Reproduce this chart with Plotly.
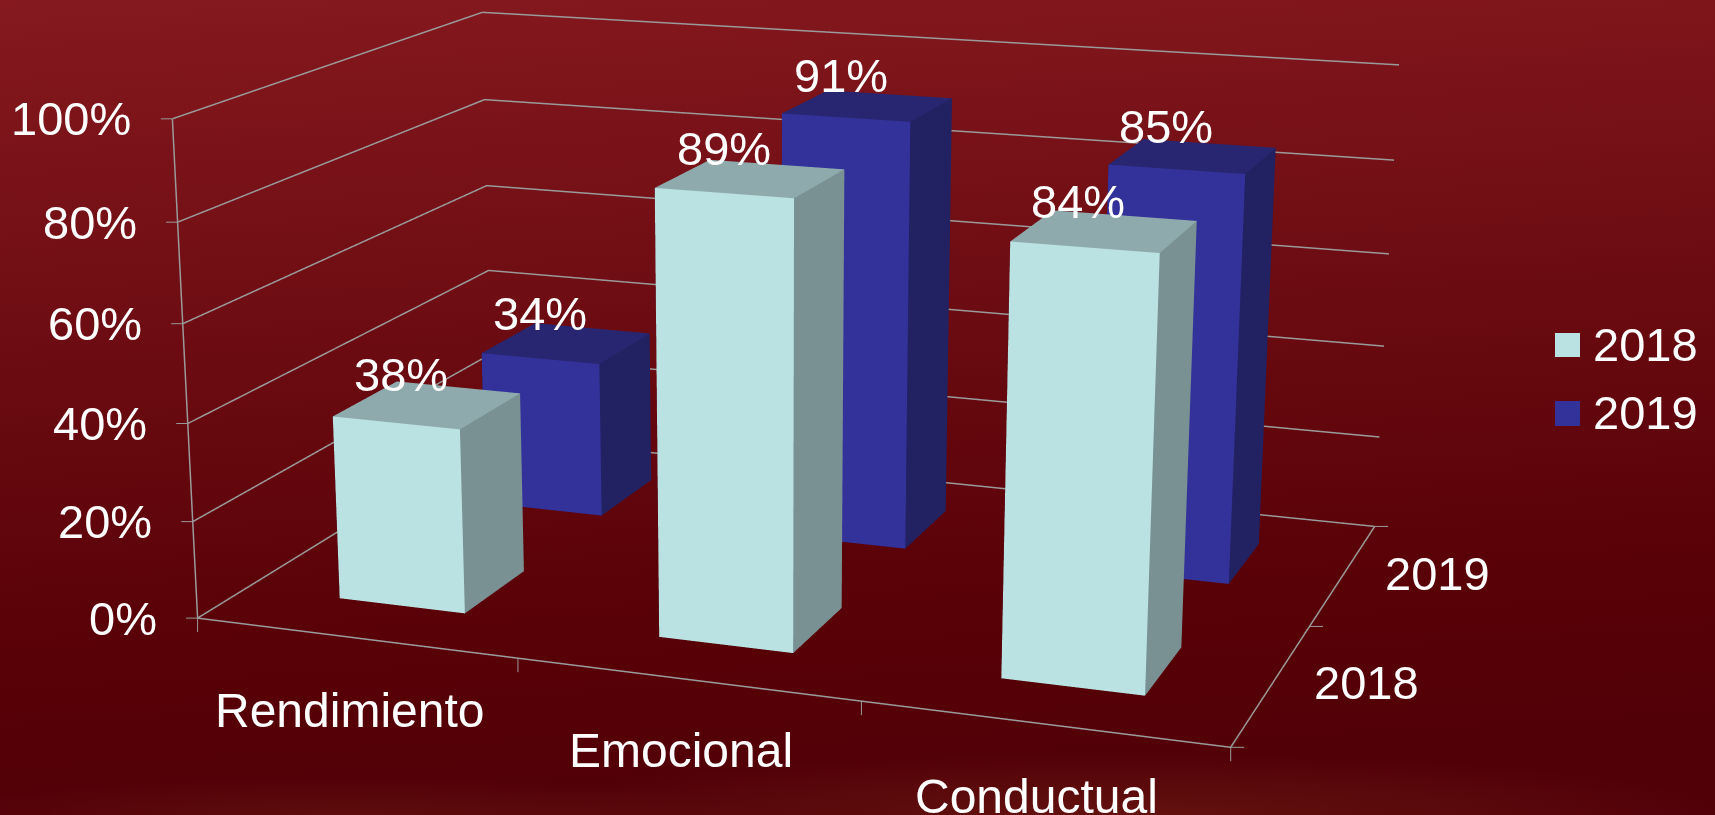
import base64
import plotly.graph_objects as go

categories = ["Rendimiento", "Emocional", "Conductual"]
series_names = ["2018", "2019"]
values_2018 = [38, 89, 84]
values_2019 = [34, 91, 85]
z_ticks = [0, 20, 40, 60, 80, 100]

FIG_W, FIG_H, TOP = 1715, 2822, -933
WIN_H = 815
FONT = "Liberation Sans"
WHITE = "#ffffff"
GRID = "#9a9a9a"
BAR_W, BAR_D = 0.40, 0.41
COLORS = {
    "2018": dict(front="#bbe2e3", top="#8faaac", side="#7a9194"),
    "2019": dict(front="#33329a", top="#282670", side="#222162"),
}
CATEGORY_YSHIFT = [-73, -71, -73]

TRI_I = [0, 0, 3, 3, 1, 1, 0, 0, 4, 4, 0, 0]
TRI_J = [1, 2, 2, 6, 2, 6, 1, 5, 5, 6, 3, 7]
TRI_K = [2, 3, 6, 7, 6, 5, 5, 4, 6, 7, 7, 4]
FACES = ["bottom", "bottom", "back", "back", "side", "side", "front", "front", "top", "top", "left", "left"]


def bar(cat_i, ser_i, value, name):
    x0, x1 = cat_i + 0.5 - BAR_W / 2, cat_i + 0.5 + BAR_W / 2
    y0, y1 = ser_i + 0.5 - BAR_D / 2, ser_i + 0.5 + BAR_D / 2
    pal = COLORS[name]
    facecolor = [pal.get(f, pal["side"]) for f in FACES]
    return go.Mesh3d(
        x=[x0, x1, x1, x0, x0, x1, x1, x0],
        y=[y0, y0, y1, y1, y0, y0, y1, y1],
        z=[0, 0, 0, 0, value, value, value, value],
        i=TRI_I, j=TRI_J, k=TRI_K,
        facecolor=facecolor,
        flatshading=True,
        lighting=dict(ambient=1, diffuse=0, specular=0, fresnel=0, roughness=1),
        hoverinfo="skip",
        name=name,
        showlegend=False,
    )


def line3d(xs, ys, zs):
    return go.Scatter3d(x=xs, y=ys, z=zs, mode="lines", hoverinfo="skip", showlegend=False,
                        line=dict(color=GRID, width=3))


fig = go.Figure()
# walls: one gridline per tick, running along the left wall then the back wall
for t in z_ticks:
    fig.add_trace(line3d([0, 0, 3], [0, 2, 2], [t, t, t]))
# axis lines
fig.add_trace(line3d([0, 0], [0, 0], [0, 100]))
fig.add_trace(line3d([0, 3, 3], [0, 0, 2], [0, 0, 0]))
for s, (name, vals) in enumerate(zip(series_names, [values_2018, values_2019])):
    for c, v in enumerate(vals):
        fig.add_trace(bar(c, s, v, name))

label_font = dict(family=FONT, size=47, color=WHITE)
cat_font = dict(family=FONT, size=48, color=WHITE)
ann = []


def tick(x, y, z, ax, ay):
    ann.append(dict(x=x, y=y, z=z, text=" ", showarrow=True, arrowhead=0, arrowwidth=1,
                    arrowcolor=GRID, standoff=0, startstandoff=0, ax=ax, ay=ay,
                    font=dict(size=1)))


for s, vals in enumerate([values_2018, values_2019]):
    for c, v in enumerate(vals):
        ann.append(dict(x=c + 0.5, y=s + 0.5, z=v, text=f"{v}%", showarrow=False,
                        xshift=-27, yshift=30, font=label_font))
for t in z_ticks:
    ann.append(dict(x=0, y=0, z=t, text=f"{t}%", showarrow=False, xanchor="right",
                    xshift=-39, yshift=0, font=label_font))
    tick(0, 0, t, -13, 0)
for c, cat in enumerate(categories):
    ann.append(dict(x=c + 0.5, y=0, z=0, text=cat, showarrow=False,
                    xshift=-6, yshift=CATEGORY_YSHIFT[c], font=cat_font))
for c in range(4):
    tick(c, 0, 0, 0, 16)
for s, name in enumerate(series_names):
    ann.append(dict(x=3, y=s + 0.5, z=0, text=name, showarrow=False,
                    xshift=94, yshift=1, font=label_font))
for s in range(3):
    tick(3, s, 0, 15, 0)


def axis(rng, tickvals):
    return dict(range=rng, autorange=False, tickmode="array", tickvals=tickvals,
                showticklabels=False, showbackground=False, showgrid=False,
                showline=False, zeroline=False, ticks="", showspikes=False,
                title=dict(text=""))


svg = """<svg xmlns='http://www.w3.org/2000/svg' width='1715' height='815'>
<defs>
<linearGradient id='a' x1='0' y1='0' x2='0.12' y2='1'>
<stop offset='0' stop-color='#85191f'/><stop offset='0.5' stop-color='#680a10'/>
<stop offset='0.75' stop-color='#5a0208'/><stop offset='0.9' stop-color='#550006'/>
<stop offset='1' stop-color='#520008'/>
</linearGradient>
<radialGradient id='b' gradientUnits='userSpaceOnUse' cx='0' cy='0' r='1'
 gradientTransform='translate(1120 815) scale(620 62)'>
<stop offset='0' stop-color='#6a1a12' stop-opacity='0.7'/><stop offset='1' stop-color='#6a1a12' stop-opacity='0'/>
</radialGradient>
<radialGradient id='c' gradientUnits='userSpaceOnUse' cx='0' cy='0' r='1'
 gradientTransform='translate(350 815) scale(420 38)'>
<stop offset='0' stop-color='#6a1a12' stop-opacity='0.5'/><stop offset='1' stop-color='#6a1a12' stop-opacity='0'/>
</radialGradient>
</defs>
<rect width='1715' height='815' fill='url(#a)'/>
<rect y='700' width='1715' height='115' fill='url(#b)'/>
<rect y='700' width='1715' height='115' fill='url(#c)'/>
</svg>"""
bg = "data:image/svg+xml;base64," + base64.b64encode(svg.encode()).decode()


def py(y_px):
    # paper coordinate of a row of the visible window
    return 1 - (y_px - TOP) / FIG_H


swatches = []
legend_text = []
for name, y0, y1 in zip(series_names, [333, 401], [357, 426]):
    swatches.append(dict(type="rect", xref="paper", yref="paper", x0=1555 / FIG_W, x1=1580 / FIG_W,
                         y0=py(y1), y1=py(y0), fillcolor=COLORS[name]["front"], line=dict(width=0)))
    legend_text.append(dict(xref="paper", yref="paper", x=1591 / FIG_W, y=py((y0 + y1) / 2 - 1),
                            xanchor="left", yanchor="middle", showarrow=False, text=name,
                            font=label_font))

fig.update_layout(
    width=FIG_W, height=FIG_H,
    margin=dict(l=0, r=0, t=0, b=0),
    paper_bgcolor="rgba(0,0,0,0)",
    font=dict(family=FONT, color=WHITE),
    showlegend=False,
    images=[dict(source=bg, xref="paper", yref="paper", x=0, y=1 + TOP / FIG_H,
                 sizex=1, sizey=WIN_H / FIG_H, sizing="stretch",
                 xanchor="left", yanchor="top", layer="below")],
    shapes=swatches,
    annotations=legend_text,
    scene=dict(
        domain=dict(x=[0, 1542 / FIG_W], y=[0, 1]),
        bgcolor="rgba(0,0,0,0)",
        aspectmode="manual",
        aspectratio=dict(x=1.05, y=0.71, z=0.505),
        camera=dict(
            eye=dict(x=1.1173, y=-3.1909, z=0.84935),
            center=dict(x=0.1336, y=-0.4879, z=-0.00265),
            up=dict(x=0, y=0, z=1),
            projection=dict(type="perspective"),
        ),
        xaxis=axis([0, 3], [0, 1, 2, 3]),
        yaxis=axis([0, 2], [0, 1, 2]),
        zaxis=axis([0, 100], z_ticks),
        annotations=ann,
    ),
)

post = f"""
document.documentElement.style.overflow='hidden';
document.body.style.margin='0';
document.body.style.overflow='hidden';
var g=document.getElementById('{{plot_id}}');
g.style.position='absolute';g.style.left='0px';g.style.top='{TOP}px';
"""
fig.write_html("out.html", config=dict(displayModeBar=False), post_script=post)
